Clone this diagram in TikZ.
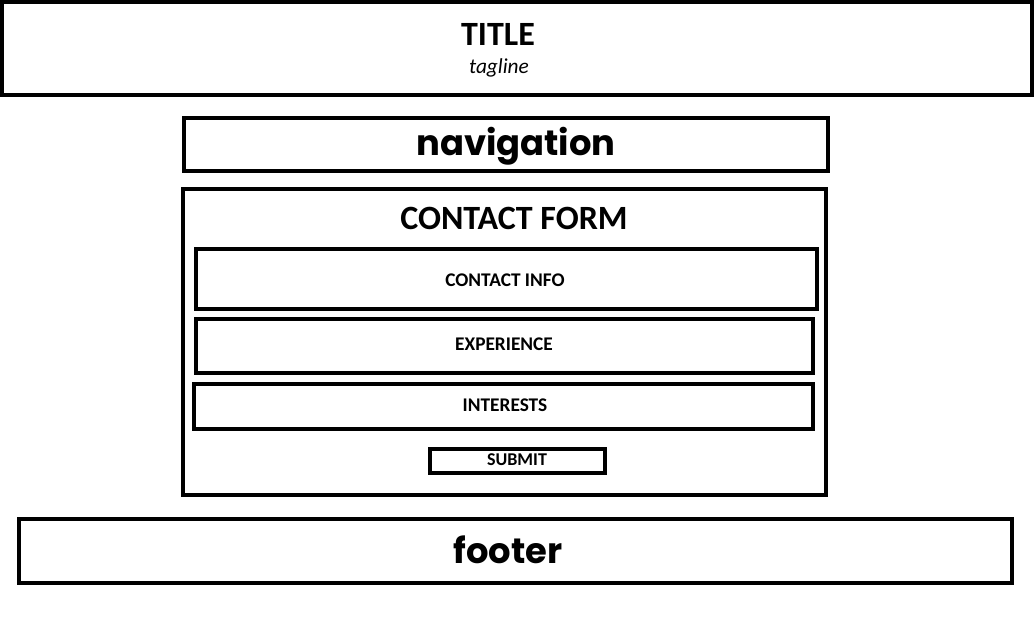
\documentclass[tikz,border=0pt]{standalone}
\usepackage{fontspec}
\setmainfont{Carlito}
\newfontfamily\popfont{Poppins}
\begin{document}
\begin{tikzpicture}[x=0.75pt,y=-0.75pt,
  box/.style={draw=black,line width=3.4pt,fill=white,inner sep=0pt,outer sep=0pt,rectangle},
  lbl/.style={inner sep=0pt,text=black,anchor=center},
  caplbl/.style={lbl,font=\bfseries\fontsize{14.5}{16}\selectfont},
  geo/.style={inner sep=0pt,text=black,anchor=base,font=\popfont\bfseries\fontsize{26.5}{30}\selectfont}]
\useasboundingbox (0,0) rectangle (1034,626);
\fill[white] (0,0) rectangle (1034,626);
% boxes
\node[box,minimum width=1030*0.75pt,minimum height=93*0.75pt] (titlebox) at (517,48.5) {};
\node[box,minimum width=644*0.75pt,minimum height=53*0.75pt] (navbox) at (506,144.5) {};
\node[box,minimum width=643*0.75pt,minimum height=306*0.75pt] (formbox) at (504.5,342) {};
\node[box,minimum width=621*0.75pt,minimum height=60*0.75pt] (infobox) at (506.5,279) {};
\node[box,minimum width=617*0.75pt,minimum height=54*0.75pt] (expbox) at (504.5,346) {};
\node[box,minimum width=619*0.75pt,minimum height=45*0.75pt] (intbox) at (503.5,406.5) {};
\node[box,minimum width=175*0.75pt,minimum height=24*0.75pt] (submitbox) at (517.5,461) {};
\node[box,minimum width=993*0.75pt,minimum height=64*0.75pt] (footbox) at (515.5,551) {};
% labels
\node[lbl,font=\bfseries\fontsize{25.5}{28}\selectfont] (title) at (498,34) {TITLE};
\node[lbl,font=\itshape\fontsize{16}{18}\selectfont] (tagline) at (499,67.5) {tagline};
\node[geo] (nav) at (516,155) {navigation};
\node[lbl,font=\bfseries\fontsize{25.5}{28}\selectfont] (formtitle) at (514,218) {CONTACT FORM};
\node[caplbl] (info) at (505,280) {CONTACT INFO};
\node[caplbl] (exp) at (504,344) {EXPERIENCE};
\node[caplbl] (int) at (505,405) {INTERESTS};
\node[caplbl,font=\bfseries\fontsize{13.5}{16}\selectfont] (submit) at (517,460) {SUBMIT};
\node[geo] (foot) at (508,563) {footer};
\end{tikzpicture}
\end{document}
